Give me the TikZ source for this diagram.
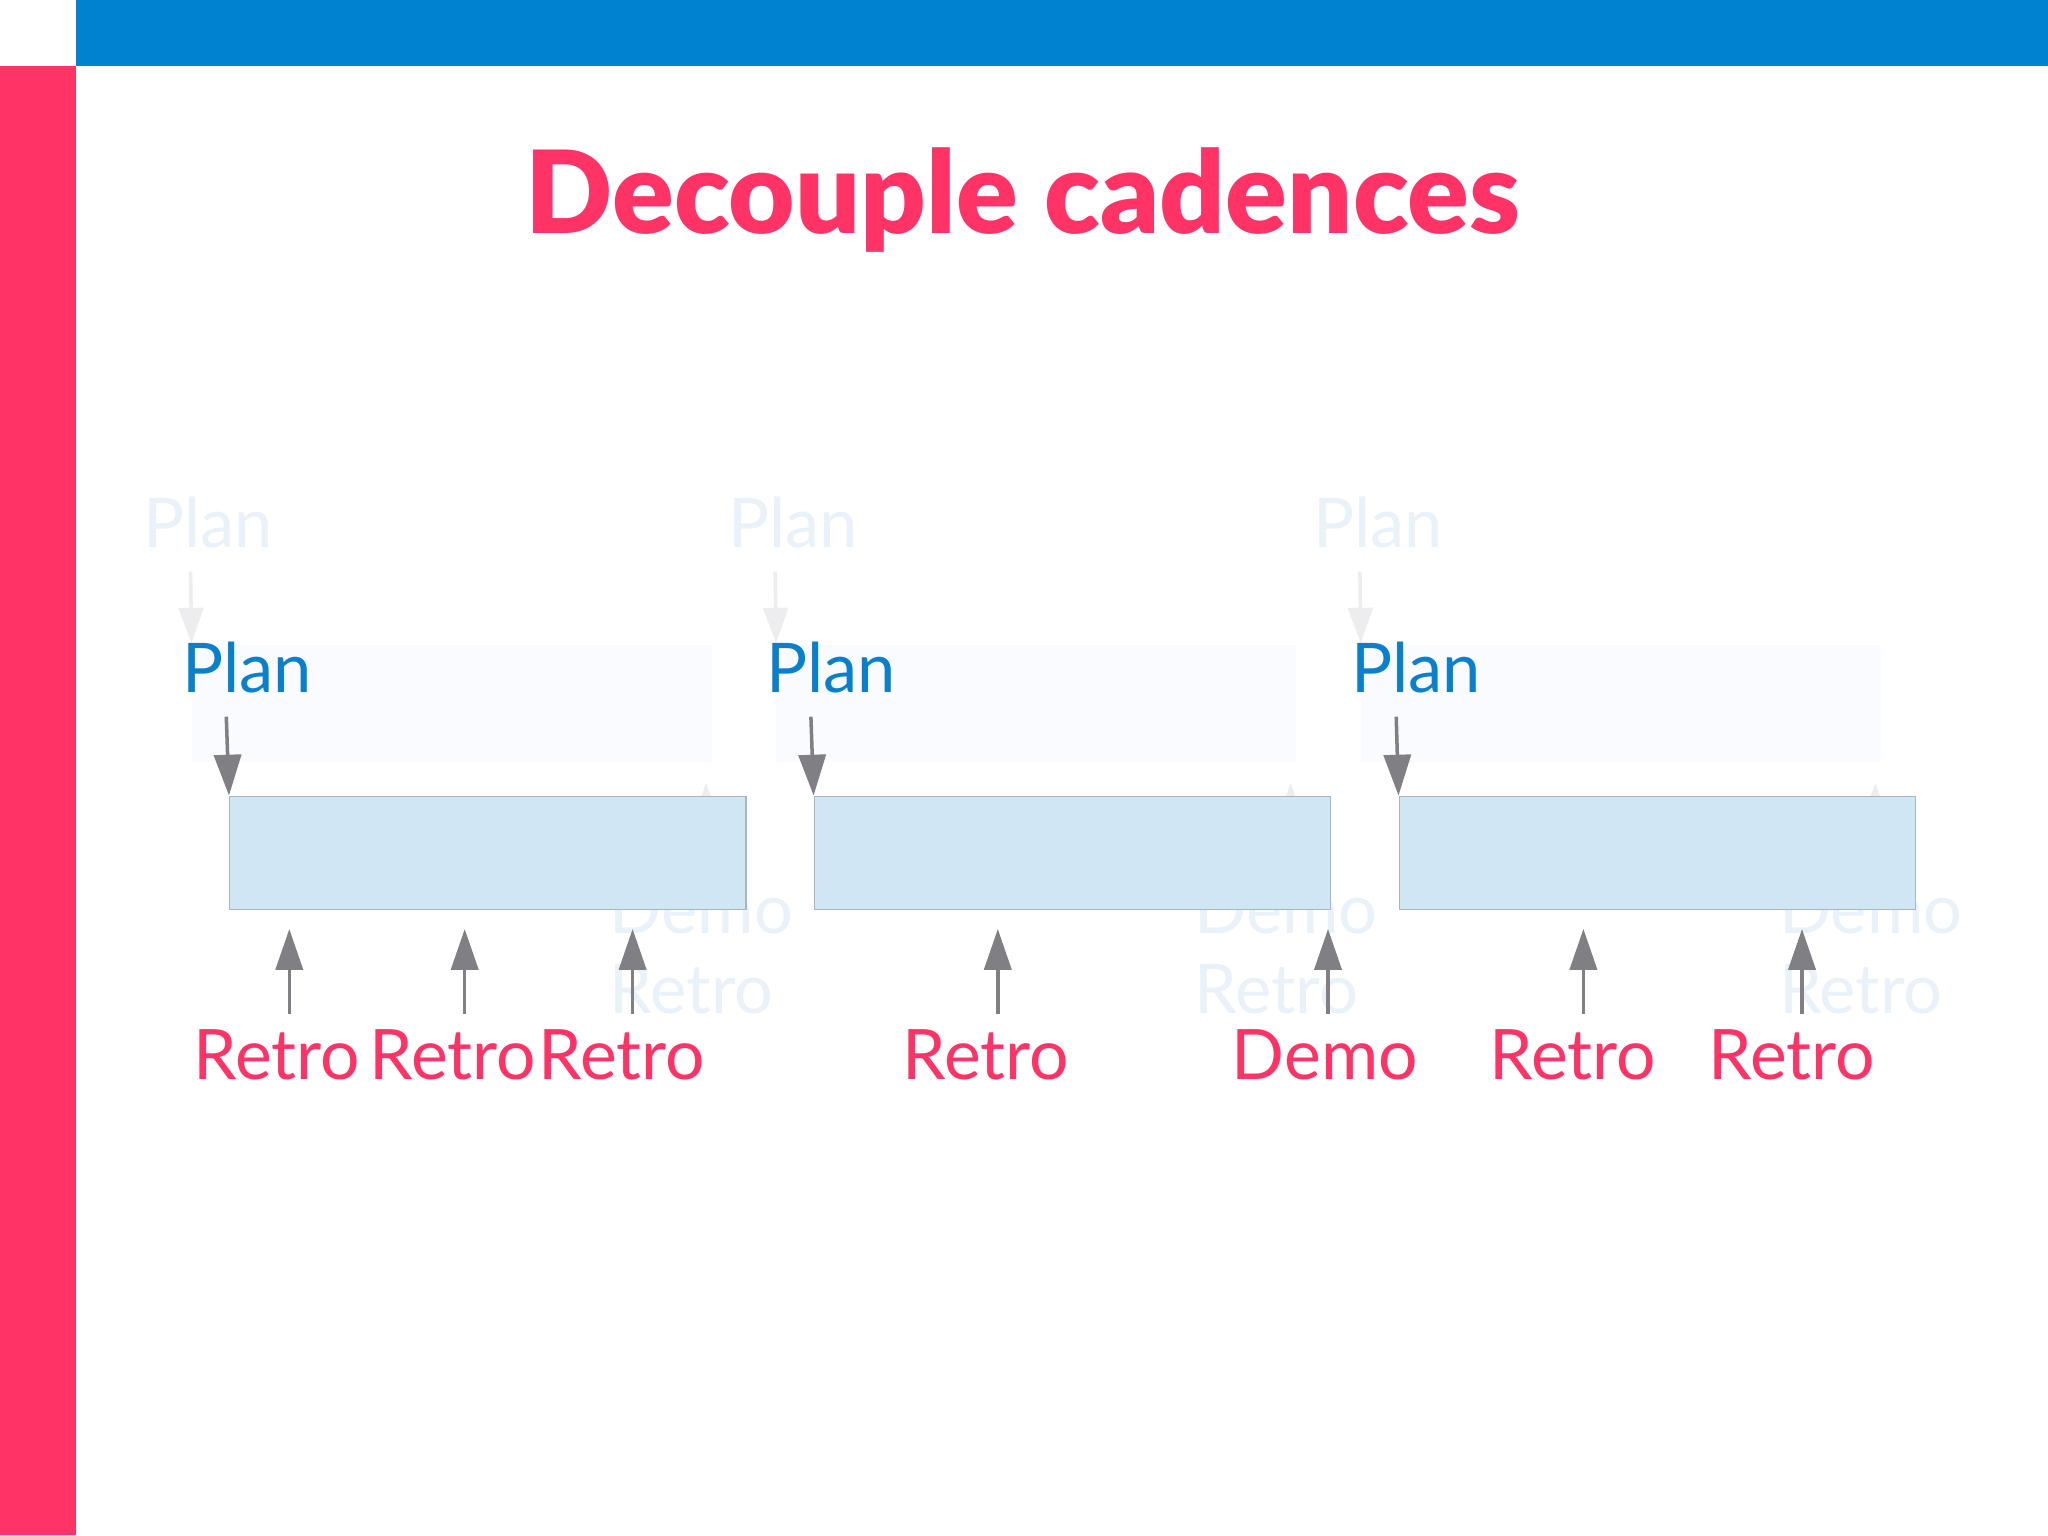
\documentclass[tikz,border=0pt]{standalone}
\usepackage{fontspec}
\setmainfont{Lato}
\newfontfamily\titlefont{Lato Black}
\usetikzlibrary{arrows.meta}
\definecolor{barblue}{HTML}{0082D0}
\definecolor{barpink}{HTML}{FF3366}
\definecolor{planblue}{HTML}{0A80CC}
\definecolor{arrgray}{HTML}{7F7F84}
\definecolor{boxfill}{HTML}{D0E6F4}
\definecolor{boxline}{HTML}{A9B6C0}
\definecolor{ghosttext}{HTML}{E9F1F9}
\definecolor{ghostarr}{HTML}{EDEDF0}
\definecolor{ghostrect}{HTML}{FAFBFE}
\tikzset{
  titletext/.style={font=\titlefont\fontsize{32.6}{38}\selectfont, text=barpink, inner sep=0pt, anchor=base},
  plantext/.style={font=\fontsize{19.5}{23}\selectfont, text=planblue, inner sep=0pt, anchor=base west},
  eventtext/.style={font=\fontsize{19.8}{23}\selectfont, text=barpink, inner sep=0pt, anchor=base west},
  ghostlabel/.style={font=\fontsize{19.5}{23}\selectfont, text=ghosttext, inner sep=0pt, anchor=base west},
  sprint/.style={rectangle, draw=boxline, line width=0.35pt, fill=boxfill, inner sep=0pt, anchor=north west, minimum width=5.16cm, minimum height=1.135cm},
  arr/.style={draw=arrgray, line width=1pt, -{Triangle[length=11.6pt, width=7.7pt]}},
  ghostarrow/.style={draw=ghostarr, line width=1pt, -{Triangle[length=10pt, width=7pt]}},
}
\begin{document}
\begin{tikzpicture}[x=0.01cm, y=-0.01cm]
\useasboundingbox (0,0) rectangle (2048,1535);
\fill[white] (0,0) rectangle (2048,1535);
% frame bars
\fill[barblue] (76,0) rectangle (2048,65.7);
\fill[barpink] (0,65.7) rectangle (76,1535);
% title
\node[titletext] (title) at (1023,233) {Decouple cadences};
% ghost (faded) layer
\foreach \dx/\i in {0/1, 584.6/2, 1169.3/3} {
  \fill[ghostrect] (191.5+\dx,645) rectangle (711.6+\dx,762);
  \node[ghostlabel] (gplan\i) at (143+\dx,547) {Plan};
  \coordinate (gpa\i) at (190.6+\dx,571.5);
  \coordinate (gpb\i) at (191.5+\dx,643);
  \draw[ghostarrow] (gpa\i) -- (gpb\i);
  \node[ghostlabel] (gdemo\i) at (609+\dx,933) {Demo};
  \node[ghostlabel] (gretro\i) at (609+\dx,1013.5) {Retro};
  \coordinate (gua\i) at (706+\dx,860);
  \coordinate (gub\i) at (706+\dx,783);
  \draw[ghostarrow] (gua\i) -- (gub\i);
}
% sprint boxes
\node[sprint] (b1) at (229,795.5) {};
\node[sprint] (b2) at (813.6,795.5) {};
\node[sprint] (b3) at (1398.5,795.5) {};
% plan labels and arrows
\node[plantext] (p1) at (181.5,692.7) {Plan};
\node[plantext] (p2) at (766,692.7) {Plan};
\node[plantext] (p3) at (1351,692.7) {Plan};
\coordinate (pa1) at (226.3,716.7);
\coordinate (pa2) at (810.9,716.7);
\coordinate (pa3) at (1396.2,716.7);
\draw[arr] (pa1) -- (b1.north west);
\draw[arr] (pa2) -- (b2.north west);
\draw[arr] (pa3) -- (b3.north west);
% event labels
\node[eventtext] (r1) at (193,1079.5) {Retro};
\node[eventtext] (r2) at (369,1079.5) {Retro};
\node[eventtext] (r3) at (538,1079.5) {Retro};
\node[eventtext] (r4) at (902,1079.5) {Retro};
\node[eventtext] (d1) at (1231,1079.5) {Demo};
\node[eventtext] (r5) at (1489,1079.5) {Retro};
\node[eventtext] (r6) at (1708,1079.5) {Retro};
% up arrows
\foreach \x/\n in {289.3/1, 464.7/2, 632.6/3, 997.8/4, 1328/5, 1583.4/6, 1802/7} {
  \coordinate (ua\n) at (\x,1013.5);
  \coordinate (ub\n) at (\x,929);
  \draw[arr] (ua\n) -- (ub\n);
}
\end{tikzpicture}
\end{document}
